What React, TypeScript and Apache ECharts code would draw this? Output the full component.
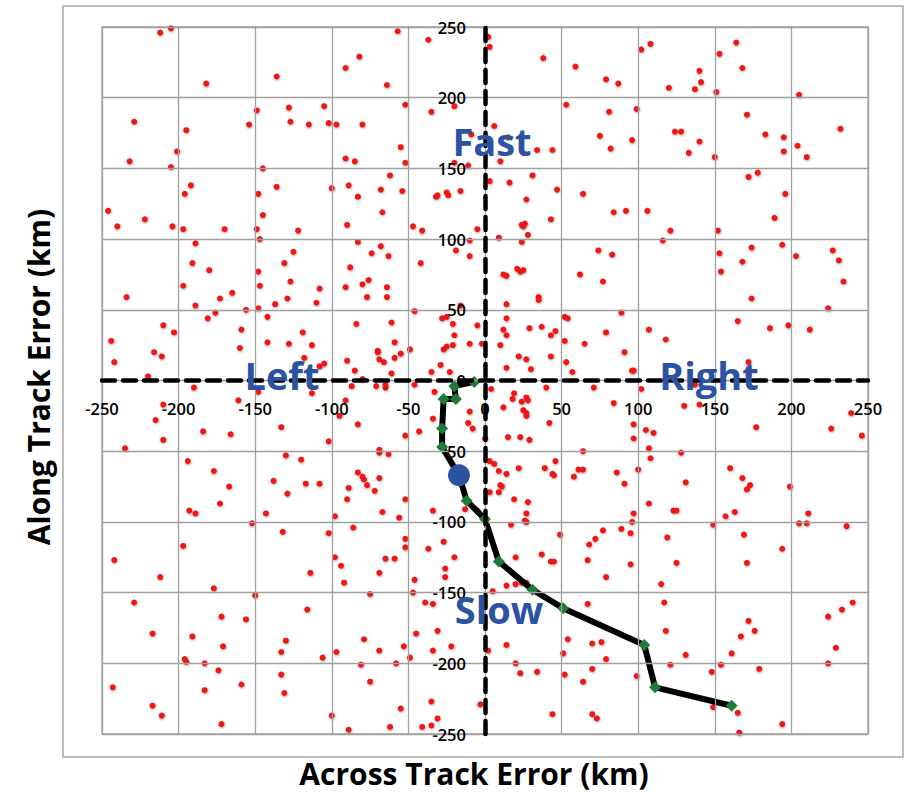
import React, { useEffect, useRef } from "react";
import * as echarts from "echarts";

// ---------- data (km) ----------
const AXIS_MIN = -250;
const AXIS_MAX = 250;
const AXIS_STEP = 50;

// red scatter points: across track error, along track error
const dotsUpperLeft: number[][] = [
  [-212, 246], [-205, 249], [-182, 210], [-136, 215], [-91, 221], [-229, 183], [-195, 177], [-149, 191],
  [-154, 181], [-128, 193], [-127, 183], [-115, 181], [-105, 194], [-102, 182], [-97, 181], [-201, 162],
  [-232, 155], [-205, 151], [-91, 157], [-145, 150], [-136, 137], [-192, 138], [-196, 132], [-148, 132],
  [-100, 136], [-89, 138], [-246, 120], [-240, 109], [-222, 114], [-204, 109], [-197, 107], [-170, 107],
  [-149, 107], [-145, 117], [-122, 106], [-90, 110], [-147, 100], [-189, 97], [-125, 91], [-191, 83], [-131, 83],
];
const dotsUpperMid: number[][] = [
  [-57, 247], [-37, 241], [-82, 229], [-64, 209], [2, 243], [3, 236], [38, 228], [59, 222], [79, 213],
  [-52, 195], [-35, 190], [-20, 194], [-80, 181], [-9, 174], [6, 180], [15, 172], [34, 163], [44, 163],
  [53, 195], [81, 190], [75, 173], [82, 164], [-55, 165], [-85, 155], [-52, 154], [-20, 154], [-11, 152],
  [10, 155], [3, 141], [16, 140], [31, 145], [47, 135], [64, 132], [-62, 145], [-68, 135], [-83, 130],
  [-54, 134], [-32, 130], [-31, 131], [-25, 133], [-24, 131], [-16, 134], [27, 128], [-67, 119], [84, 119],
  [43, 114], [24, 110], [26, 111], [25, 109], [28, 103], [-47, 109], [-41, 106], [-5, 107], [9, 101],
  [24, 98], [-83, 98], [-68, 95], [-74, 90], [-63, 88], [-19, 92], [-10, 99], [-10, 88], [74, 92], [83, 89],
  [-42, 83],
];
const dotsUpperRight: number[][] = [
  [87, 210], [102, 234], [108, 238], [120, 207], [137, 206], [140, 219], [141, 211], [151, 204], [153, 231],
  [164, 239], [168, 221], [205, 202], [99, 192], [124, 176], [128, 176], [96, 170], [140, 169], [133, 161],
  [150, 158], [171, 188], [183, 174], [195, 172], [195, 162], [204, 166], [210, 158], [232, 178], [172, 144],
  [178, 147], [196, 132], [92, 120], [106, 120], [121, 106], [116, 99], [152, 106], [189, 115], [153, 90],
  [174, 94], [194, 96], [168, 84], [203, 88], [227, 92], [231, 85],
];
const dotsMiddleLeft: number[][] = [
  [-180, 78], [-148, 77], [-88, 80], [-234, 59], [-197, 67], [-189, 53], [-173, 58], [-165, 62], [-147, 67],
  [-127, 70], [-129, 58], [-137, 54], [-148, 51], [-156, 50], [-176, 48], [-181, 44], [-108, 65], [-110, 55],
  [-91, 66], [-142, 45], [-210, 39], [-203, 34], [-244, 28], [-159, 36], [-142, 27], [-128, 26], [-119, 34],
  [-113, 25], [-84, 40], [-160, 23], [-216, 20], [-211, 17], [-242, 13], [-118, 16], [-108, 10], [-105, 12],
  [-90, 14], [-85, 7], [-220, 3], [-190, -5], [-148, -8], [-113, -9], [-87, -4], [-161, -14], [-210, -17],
  [-91, -14], [-95, -25], [-83, -31], [-215, -28], [-210, -42], [-235, -48], [-184, -36], [-166, -38],
  [-133, -33], [-102, -43], [-194, -57], [-177, -64], [-167, -75], [-130, -53], [-120, -56], [-138, -71],
  [-117, -73], [-108, -73], [-129, -80], [-83, -65], [-89, -76], [-90, -84], [-173, -87],
];
const dotsCentre: number[][] = [
  [-80, 68], [-76, 71], [-64, 66], [-77, 59], [-64, 59], [12, 75], [14, 74], [21, 79], [23, 77], [25, 78],
  [62, 75], [77, 70], [35, 59], [35, 57], [14, 54], [-46, 49], [-16, 53], [-28, 44], [-25, 45], [-61, 41],
  [-21, 40], [-20, 32], [-5, 39], [14, 44], [12, 36], [14, 32], [29, 37], [37, 38], [43, 32], [46, 35],
  [52, 45], [54, 44], [79, 34], [52, 28], [65, 26], [-59, 27], [-70, 21], [-70, 20], [-55, 19], [-59, 16],
  [-49, 22], [-27, 22], [-25, 24], [-21, 25], [-10, 26], [-2, 26], [10, 25], [-69, 15], [-66, 13], [-61, 5],
  [-80, 1], [-35, 6], [-29, 11], [-23, 6], [22, 17], [27, 15], [43, 17], [53, 13], [14, 9], [30, 8], [57, 6],
  [-71, -4], [-65, -5], [-65, -3], [-46, -3], [-33, -8], [4, -6], [19, -9], [18, -13], [24, -15], [27, -12],
  [28, -14], [40, -5], [71, -5], [84, -16], [-10, -22], [12, -19], [25, -21], [27, -23], [27, -25], [-34, -27],
  [-11, -30], [-8, -34], [42, -30], [-43, -36], [-52, -39], [0, -41], [15, -40], [23, -40], [29, -42],
  [-69, -51], [-69, -49], [-63, -52], [3, -57], [6, -59], [9, -64], [14, -66], [22, -62], [39, -62], [44, -66],
  [45, -67], [46, -57], [58, -68], [61, -63], [64, -63], [64, -50], [-80, -68], [-79, -70], [-77, -74],
  [-69, -69], [-72, -78], [3, -79], [10, -74], [11, -75], [9, -79], [19, -84], [28, -86], [-52, -84],
];
const dotsMiddleRight: number[][] = [
  [154, 77], [234, 70], [174, 58], [224, 51], [89, 48], [107, 36], [118, 29], [165, 42], [186, 37], [198, 39],
  [212, 36], [91, 20], [96, 7], [97, 7], [172, 13], [172, 8], [172, 4], [102, -6], [137, -3], [130, -18],
  [140, -17], [239, -23], [97, -31], [105, -35], [110, -37], [97, -41], [177, -33], [226, -34], [246, -39],
  [107, -48], [108, -55], [128, -51], [86, -65], [100, -63], [91, -73], [131, -72], [160, -62], [168, -69],
  [173, -74], [171, -77], [199, -75], [107, -87],
];
const dotsLowerLeft: number[][] = [
  [-193, -92], [-189, -94], [-143, -94], [-98, -96], [-152, -101], [-132, -107], [-102, -108], [-86, -104],
  [-197, -117], [-242, -127], [-212, -139], [-177, -147], [-114, -136], [-98, -125], [-94, -131], [-92, -143],
  [-150, -152], [-229, -157], [-217, -179], [-172, -167], [-156, -169], [-116, -162], [-191, -181],
  [-171, -188], [-130, -184], [-133, -192], [-97, -192], [-106, -196], [-196, -197], [-195, -199],
  [-183, -200], [-174, -205], [-243, -217], [-217, -230], [-211, -237], [-183, -219], [-159, -215],
  [-133, -208], [-131, -221], [-172, -243], [-100, -237], [-89, -247],
];
const dotsLowerMid: number[][] = [
  [-67, -93], [-56, -97], [-34, -92], [-52, -112], [-52, -118], [-27, -114], [-37, -119], [-65, -126],
  [-59, -126], [-20, -125], [-26, -133], [-26, -139], [-69, -136], [-46, -141], [-75, -151], [-47, -150],
  [-39, -157], [-34, -158], [-13, -91], [-5, -92], [27, -94], [27, -100], [26, -99], [17, -102], [49, -109],
  [77, -106], [72, -112], [68, -116], [67, -127], [37, -123], [43, -128], [45, -128], [20, -125], [79, -139],
  [14, -145], [20, -144], [24, -143], [27, -143], [5, -149], [67, -158], [-79, -183], [-69, -191], [-45, -179],
  [-31, -177], [-53, -188], [-49, -196], [-34, -191], [-22, -188], [-58, -200], [-81, -201], [-75, -213],
  [2, -191], [14, -187], [54, -183], [70, -186], [76, -185], [51, -193], [79, -197], [20, -200], [23, -207],
  [34, -206], [52, -208], [70, -204], [64, -213], [-55, -232], [-35, -227], [-31, -239], [-41, -245],
  [-35, -244], [-62, -245], [-3, -229], [44, -236], [70, -236], [73, -239],
];
const dotsLowerRight: number[][] = [
  [97, -94], [96, -100], [89, -105], [95, -108], [123, -92], [125, -92], [157, -96], [163, -93], [149, -102],
  [169, -109], [211, -94], [205, -101], [210, -101], [236, -103], [119, -111], [194, -119], [95, -130],
  [125, -129], [171, -129], [115, -144], [117, -157], [240, -157], [233, -162], [224, -167], [172, -170],
  [176, -177], [167, -181], [118, -177], [229, -189], [104, -189], [131, -194], [161, -193], [121, -201],
  [154, -201], [224, -200], [179, -204], [148, -206], [99, -209], [149, -231], [165, -235], [194, -243],
  [166, -249],
];

// black track with green diamonds
const trackAcross: number[] = [-7, -20, -19, -27, -28, -28, -17, -12, 0, 9, 31, 51, 104, 111, 161];
const trackAlong: number[] = [-1, -4, -13, -13, -34, -47, -67, -85, -98, -128, -148, -161, -187, -217, -230];
// index of the track point drawn as the large blue circle
const BLUE_INDEX = 6;

const QUADRANT_LABELS = ["Fast", "Slow", "Left", "Right"];
const X_TITLE = "Across Track Error (km)";
const Y_TITLE = "Along Track Error (km)";

const allDots = [
  ...dotsUpperLeft, ...dotsUpperMid, ...dotsUpperRight,
  ...dotsMiddleLeft, ...dotsCentre, ...dotsMiddleRight,
  ...dotsLowerLeft, ...dotsLowerMid, ...dotsLowerRight,
];

const FONT = '"Open Sans", "Liberation Sans", sans-serif';
const BLUE = "#2C53A3";

// plot area (px)
const GRID_LEFT = 102;
const GRID_TOP = 27;
const GRID_W = 766;
const GRID_H = 707;

export default function App() {
  const ref = useRef<HTMLDivElement>(null);

  useEffect(() => {
    if (!ref.current) return;
    const chart = echarts.init(ref.current, undefined, { renderer: "svg" });

    const trackData = trackAcross.map((x, i) =>
      i === BLUE_INDEX
        ? { value: [x, trackAlong[i]], symbol: "none" }
        : { value: [x, trackAlong[i]] }
    );

    const axisCommon = {
      type: "value" as const,
      min: AXIS_MIN,
      max: AXIS_MAX,
      interval: AXIS_STEP,
      z: 5,
      axisLine: {
        onZero: false,
        lineStyle: { color: "#000", width: 4.5, type: [13, 8] as any },
      },
      axisTick: { show: false },
      splitLine: { show: true, lineStyle: { color: "#a0a0a0", width: 1.3 } },
    };

    const labelStyle = {
      color: "#000",
      fontSize: 16.5,
      fontWeight: 600,
      fontFamily: FONT,
      margin: 19,
      showMinLabel: true,
      showMaxLabel: true,
    };

    const quadrantPositions: Record<string, [number, number]> = {
      Fast: [492, 141],
      Slow: [499, 609],
      Left: [282, 375],
      Right: [709, 375],
    };

    chart.setOption({
      animation: false,
      backgroundColor: "#fff",
      grid: {
        left: GRID_LEFT,
        top: GRID_TOP,
        width: GRID_W,
        height: GRID_H,
        show: true,
        borderColor: "#a0a0a0",
        borderWidth: 1.3,
      },
      xAxis: {
        ...axisCommon,
        position: "bottom",
        // move the axis up to the zero line (centre of the square plot)
        offset: -GRID_H / 2,
        axisLabel: labelStyle,
      },
      yAxis: {
        ...axisCommon,
        position: "left",
        offset: -GRID_W / 2,
        axisLabel: labelStyle,
      },
      graphic: [
        {
          type: "rect",
          silent: true,
          z: -10,
          shape: { x: 63, y: 6, width: 840, height: 751 },
          style: { fill: "none", stroke: "#a8a8a8", lineWidth: 1.5 },
        },
        {
          type: "text",
          x: 474,
          y: 773,
          z: 10,
          style: {
            text: X_TITLE,
            fontSize: 30,
            fontWeight: "bold",
            fontFamily: FONT,
            fill: "#000",
            align: "center",
            verticalAlign: "middle",
            textAlign: "center",
            textVerticalAlign: "middle",
          },
        },
        {
          type: "text",
          x: 38,
          y: 377,
          rotation: Math.PI / 2,
          z: 10,
          style: {
            text: Y_TITLE,
            fontSize: 30,
            fontWeight: "bold",
            fontFamily: FONT,
            fill: "#000",
            align: "center",
            verticalAlign: "middle",
            textAlign: "center",
            textVerticalAlign: "middle",
          },
        },
        ...QUADRANT_LABELS.map((t) => ({
          type: "text",
          x: quadrantPositions[t][0],
          y: quadrantPositions[t][1],
          z: 20,
          style: {
            text: t,
            fontSize: 38,
            fontWeight: "bold",
            fontFamily: FONT,
            fill: BLUE,
            align: "center",
            verticalAlign: "middle",
            textAlign: "center",
            textVerticalAlign: "middle",
          },
        })),
      ],
      series: [
        {
          type: "scatter",
          data: allDots,
          symbol: "circle",
          symbolSize: 6,
          z: 2,
          itemStyle: {
            color: "#f01515",
            opacity: 1,
            shadowColor: "rgba(0,0,0,0.35)",
            shadowBlur: 2,
            shadowOffsetX: 0.5,
            shadowOffsetY: 1,
          },
        },
        {
          type: "line",
          data: trackData,
          symbol: "diamond",
          symbolSize: 12,
          z: 3,
          lineStyle: { color: "#000", width: 6 },
          itemStyle: { color: "#1E7B3A" },
        },
        {
          type: "scatter",
          data: [[trackAcross[BLUE_INDEX], trackAlong[BLUE_INDEX]]],
          symbol: "circle",
          symbolSize: 22,
          z: 4,
          itemStyle: { color: BLUE, opacity: 1 },
        },
      ],
    });

    return () => chart.dispose();
  }, []);

  return (
    <div
      ref={ref}
      style={{ position: "fixed", left: 0, top: 0, width: 907, height: 792 }}
    />
  );
}
